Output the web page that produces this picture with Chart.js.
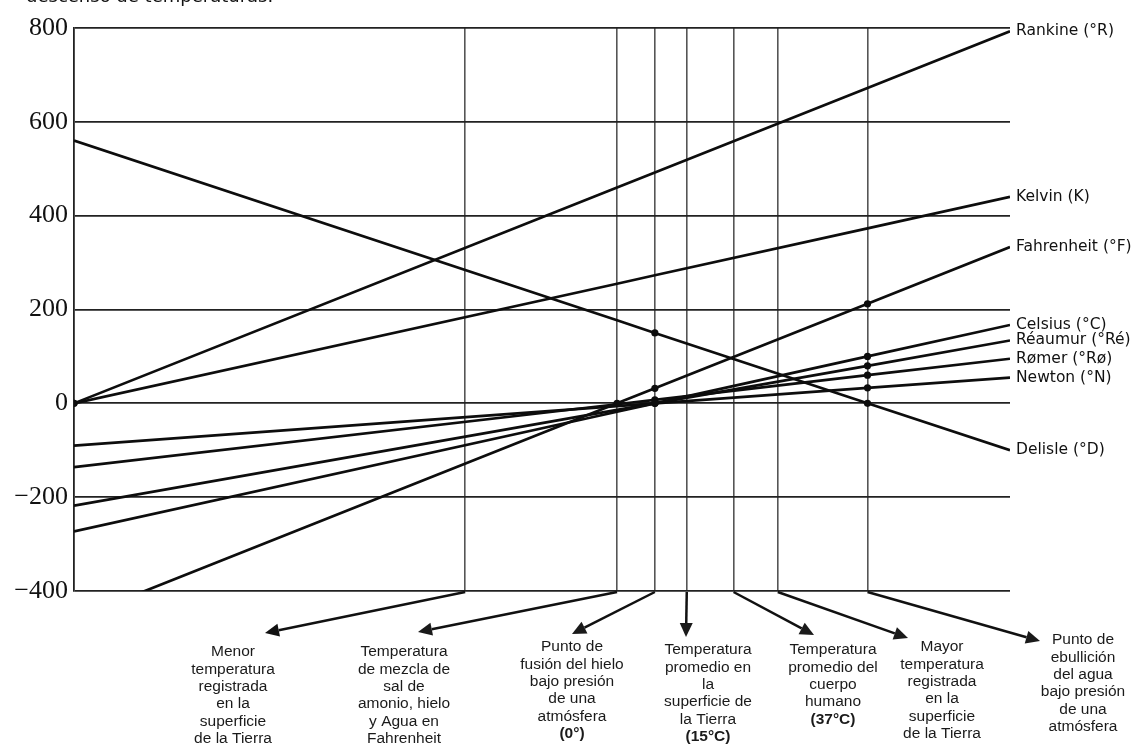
<!DOCTYPE html>
<html>
<head>
<meta charset="utf-8">
<script src="https://cdn.jsdelivr.net/npm/chart.js@4/dist/chart.umd.min.js"></script>
<style>
  html, body { margin: 0; padding: 0; background: #fff; overflow: hidden; }
  #wrap { position: relative; width: 1139px; height: 745px; }
  #topText { position: absolute; left: 26px; top: -15px; font: 18px "DejaVu Sans", sans-serif; color: #111; white-space: nowrap; }
</style>
</head>
<body>
<div id="wrap">
  <canvas id="graph" width="1139" height="745"></canvas>
  <div id="topText">descenso de temperaturas.</div>
</div>
<script>
// temperatures in °C where each line is sampled (left edge, 0°F, 0°C, 100°C, right edge)
const temps = [-273.15, -17.78, 0, 100, 167];

// reference temperatures (°C) drawn as vertical lines
const markTemps = [-89.2, -17.78, 0, 15, 37, 57.8, 100];

const scaleNames = ['Rankine (°R)', 'Kelvin (K)', 'Fahrenheit (°F)', 'Celsius (°C)',
                    'Réaumur (°Ré)', 'Rømer (°Rø)', 'Newton (°N)', 'Delisle (°D)'];

const rankine    = [0, 460, 492, 672, 793];
const kelvin     = [0, 255, 273, 373, 440];
const fahrenheit = [-460, 0, 32, 212, 333];
const celsius    = [-273, -18, 0, 100, 167];
const reaumur    = [-218, -14, 0, 80, 134];
const romer      = [-136, -2, 7.5, 60, 95];
const newton     = [-90, -6, 0, 33, 55];
const delisle    = [560, 177, 150, 0, -100];

// which samples carry a dot
const rankineDots    = [1, 0, 0, 0, 0];
const kelvinDots     = [1, 0, 0, 0, 0];
const fahrenheitDots = [0, 1, 1, 1, 0];
const celsiusDots    = [0, 0, 1, 1, 0];
const reaumurDots    = [0, 0, 1, 1, 0];
const romerDots      = [0, 0, 1, 1, 0];
const newtonDots     = [0, 0, 1, 1, 0];
const delisleDots    = [0, 0, 1, 1, 0];

const yTicks = [-400, -200, 0, 200, 400, 600, 800];

const notes = [
  ['Menor', 'temperatura', 'registrada', 'en la', 'superficie', 'de la Tierra'],
  ['Temperatura', 'de mezcla de', 'sal de', 'amonio, hielo', 'y Agua en', 'Fahrenheit'],
  ['Punto de', 'fusión del hielo', 'bajo presión', 'de una', 'atmósfera', '(0°)'],
  ['Temperatura', 'promedio en', 'la', 'superficie de', 'la Tierra', '(15°C)'],
  ['Temperatura', 'promedio del', 'cuerpo', 'humano', '(37°C)'],
  ['Mayor', 'temperatura', 'registrada', 'en la', 'superficie', 'de la Tierra'],
  ['Punto de', 'ebullición', 'del agua', 'bajo presión', 'de una', 'atmósfera']
];
const boldLast = [false, false, true, true, true, false, false];

// layout of the annotation blocks (pixels): arrow tip and text centre / first line
const noteLayout = [
  { tipX: 265, tipY: 633, textX: 233, textY: 652 },
  { tipX: 418, tipY: 632, textX: 404, textY: 652 },
  { tipX: 572, tipY: 634, textX: 572, textY: 647 },
  { tipX: 686, tipY: 637, textX: 708, textY: 650 },
  { tipX: 814, tipY: 635, textX: 833, textY: 650 },
  { tipX: 908, tipY: 638, textX: 942, textY: 647 },
  { tipX: 1040, tipY: 641, textX: 1083, textY: 640 }
];

const seriesValues = [rankine, kelvin, fahrenheit, celsius, reaumur, romer, newton, delisle];
const seriesDots = [rankineDots, kelvinDots, fahrenheitDots, celsiusDots, reaumurDots, romerDots, newtonDots, delisleDots];

const datasets = scaleNames.map((name, k) => ({
  label: name,
  data: temps.map((t, i) => ({ x: t, y: seriesValues[k][i] })),
  showLine: true,
  borderColor: '#0d0d0d',
  backgroundColor: '#0d0d0d',
  borderWidth: 2.7,
  pointRadius: seriesDots[k].map(d => d ? 3.6 : 0),
  pointBorderWidth: 0,
  tension: 0
}));

function drawArrow(ctx, x0, y0, x1, y1) {
  const ang = Math.atan2(y1 - y0, x1 - x0);
  const len = 14, half = 6.5;
  const bx = x1 - len * Math.cos(ang), by = y1 - len * Math.sin(ang);
  ctx.beginPath();
  ctx.moveTo(x0, y0);
  ctx.lineTo(bx, by);
  ctx.stroke();
  ctx.beginPath();
  ctx.moveTo(x1, y1);
  ctx.lineTo(bx + half * Math.sin(ang), by - half * Math.cos(ang));
  ctx.lineTo(bx - half * Math.sin(ang), by + half * Math.cos(ang));
  ctx.closePath();
  ctx.fill();
}

const extras = {
  id: 'extras',
  afterDraw(chart) {
    const ctx = chart.ctx;
    const area = chart.chartArea;
    const xs = chart.scales.x, ys = chart.scales.y;
    ctx.save();

    // names at the right end of each line
    ctx.fillStyle = '#111';
    ctx.font = '15.5px "DejaVu Sans", sans-serif';
    ctx.textAlign = 'left';
    ctx.textBaseline = 'middle';
    scaleNames.forEach((name, k) => {
      const v = seriesValues[k];
      ctx.fillText(name, area.right + 6, ys.getPixelForValue(v[v.length - 1]));
    });

    // arrows and notes under the plot
    ctx.strokeStyle = '#111';
    ctx.fillStyle = '#111';
    ctx.lineWidth = 2.5;
    markTemps.forEach((t, i) => {
      const L = noteLayout[i];
      drawArrow(ctx, xs.getPixelForValue(t), area.bottom + 1, L.tipX, L.tipY);
      notes[i].forEach((line, j) => {
        const last = j === notes[i].length - 1 && boldLast[i];
        ctx.font = (last ? 'bold ' : '') + '15.5px "Liberation Sans", Arial, sans-serif';
        ctx.textAlign = 'center';
        ctx.fillStyle = '#1a1a1a';
        ctx.fillText(line, L.textX, L.textY + j * 17.4);
      });
    });
    ctx.restore();
  }
};

new Chart(document.getElementById('graph').getContext('2d'), {
  type: 'scatter',
  data: { datasets: datasets },
  options: {
    responsive: false,
    animation: false,
    layout: { padding: { left: 0, right: 129, top: 28, bottom: 154 } },
    plugins: { legend: { display: false }, tooltip: { enabled: false } },
    scales: {
      x: {
        type: 'linear',
        min: -273.15,
        max: 167,
        afterBuildTicks: s => { s.ticks = markTemps.map(v => ({ value: v })); },
        afterFit: s => { s.height = 0; },
        ticks: { display: false },
        border: { display: false },
        grid: { color: '#555', lineWidth: 1.6, drawTicks: false }
      },
      y: {
        min: -400,
        max: 800,
        afterBuildTicks: s => { s.ticks = yTicks.map(v => ({ value: v })); },
        afterFit: s => { s.width = 74; },
        ticks: {
          color: '#111',
          padding: 6,
          font: { family: '"Liberation Serif", "Times New Roman", serif', size: 26 },
          callback: v => String(v).replace('-', '\u2212')
        },
        border: { display: true, color: '#222', width: 1.8 },
        grid: { color: '#222', lineWidth: 1.8, drawTicks: false }
      }
    }
  },
  plugins: [extras]
});
</script>
</body>
</html>
